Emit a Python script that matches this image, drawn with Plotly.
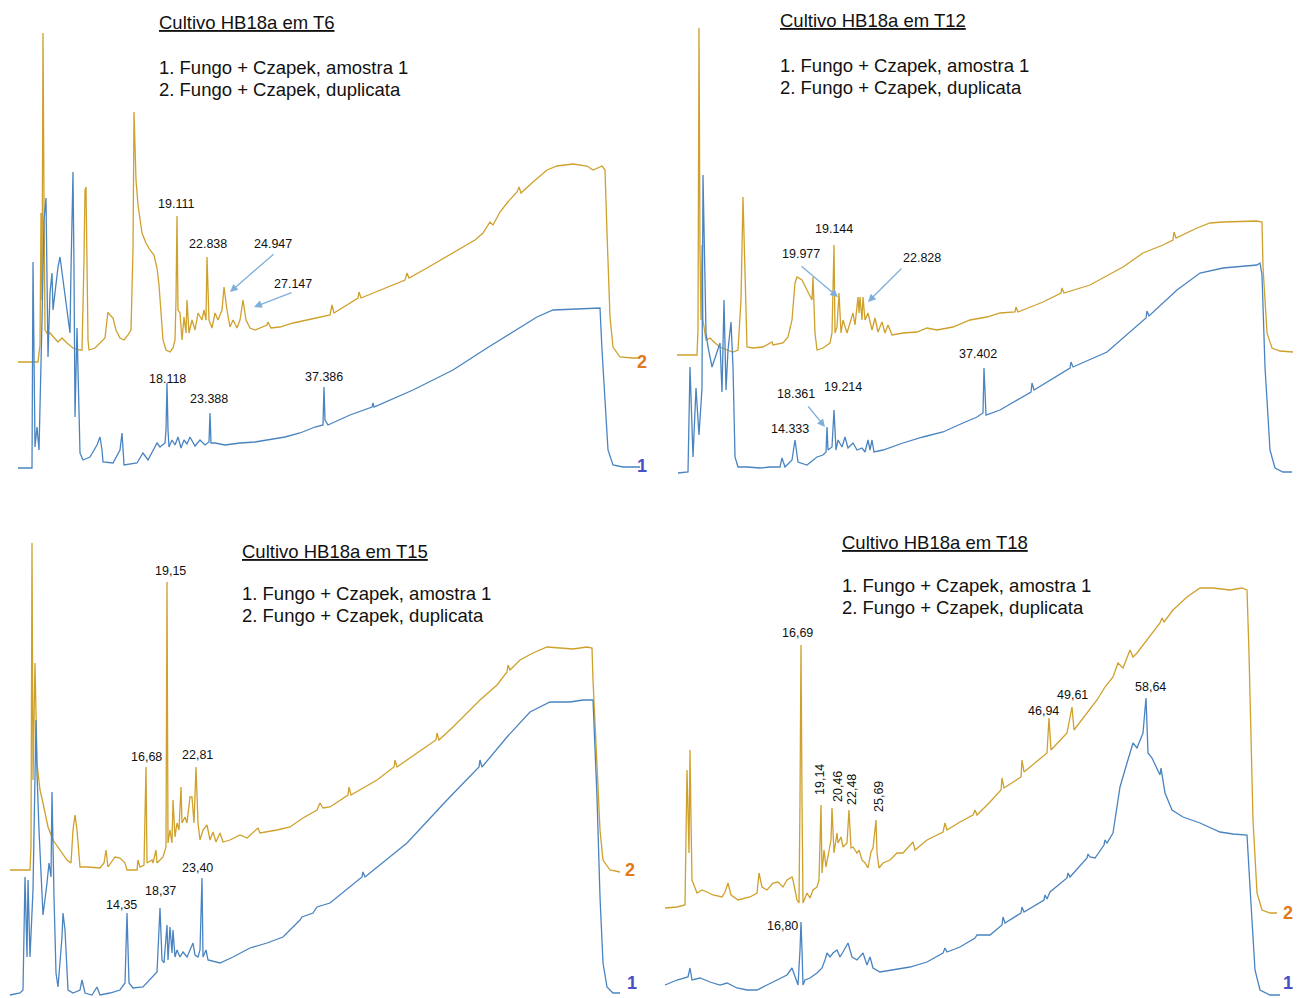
import plotly.graph_objects as go

# ---------------- data: (retention position, signal) ----------------
# Panel T6
T6_DUP = [(18,108),(38,108),(40,125),(41,257),(42,170),(43,437),(44,270),(45,140),(47,137),(50,137),
          (58,128),(62,132),(67,127),(73,122),(80,120),(82,120),(84,210),(85,280),(86,283),(87,220),
          (88,130),(89,120),(95,122),(100,127),(105,132),(107,150),(108,158),(110,155),(113,152),(116,140),
          (120,132),(124,130),(128,135),(131,140),(133,220),(134,358),(135,330),(136,290),(138,265),(142,237),
          (146,227),(150,220),(154,215),(157,202),(159,185),(161,160),(163,130),(166,120),(170,118),(173,122),
          (175,130),(176,170),(177,254),(178,160),(180,157),(182,130),(184,153),(186,137),(187,170),(189,137),
          (192,150),(195,140),(198,157),(202,150),(204,160),(206,150),(207,213),(209,150),(212,142),(215,157),
          (218,150),(222,160),(224,183),(227,160),(230,143),(233,150),(237,142),(240,150),(243,170),(246,150),
          (250,142),(255,140),(260,142),(267,145),(268,148),(271,142),(280,143),(293,147),(307,150),(320,153),
          (330,155),(332,165),(334,157),(358,172),(359,178),(361,172),(380,180),(405,190),(407,197),(409,192),
          (427,202),(453,217),(475,230),(483,237),(487,244),(490,248),(493,245),(500,258),(507,267),(517,278),
          (519,283),(521,277),(533,288),(547,300),(557,304),(573,306),(587,304),(593,300),(602,304),(605,300),
          (607,237),(610,153),(613,123),(620,113),(632,112),(640,112)]
T6_AMO = [(18,2),(32,2),(33,208),(35,23),(37,43),(39,20),(42,150),(44,250),(46,272),(47,150),(48,113),
          (50,177),(52,197),(53,160),(55,180),(58,203),(60,213),(63,190),(67,163),(70,137),(71,200),(73,298),
          (74,200),(75,53),(77,142),(79,40),(80,17),(83,10),(90,13),(97,25),(100,33),(102,20),(103,8),(113,7),
          (120,20),(122,37),(124,5),(137,7),(143,17),(148,10),(157,27),(160,23),(165,27),(166,40),(167,87),
          (168,40),(169,23),(172,30),(175,25),(178,33),(181,22),(184,30),(187,26),(190,33),(195,24),(200,30),
          (205,25),(209,28),(210,57),(211,27),(215,27),(225,25),(240,27),(255,28),(267,30),(285,33),(300,37),
          (315,43),(323,45),(324,83),(325,50),(328,45),(350,55),(372,63),(373,67),(374,63),(413,80),(453,100),
          (487,122),(520,142),(537,153),(553,160),(573,161),(600,162),(602,120),(605,70),(608,20),(613,5),
          (623,3),(640,3)]

# Panel T12
T12_DUP = [(17,115),(37,115),(38,140),(39,442),(40,220),(41,150),(42,225),(43,150),(46,130),(50,132),
           (55,127),(60,123),(67,120),(73,118),(78,120),(81,170),(83,273),(86,170),(87,123),(93,122),(103,123),
           (112,128),(113,125),(123,127),(128,133),(132,150),(135,187),(137,193),(142,190),(147,180),(152,170),
           (153,193),(155,137),(157,120),(163,122),(170,127),(172,137),(174,225),(175,137),(177,143),(179,177),
           (181,137),(183,150),(187,137),(190,147),(193,157),(195,145),(198,173),(199,157),(200,173),(202,150),
           (203,173),(205,150),(208,157),(212,140),(215,152),(218,138),(222,148),(225,137),(228,145),(232,135),
           (243,137),(257,138),(267,142),(277,140),(293,143),(310,150),(327,153),(340,157),(355,158),(356,163),
           (358,158),(383,168),(401,177),(402,182),(404,177),(430,185),(463,203),(483,217),(503,225),(513,230),
           (514,238),(516,232),(537,242),(550,247),(563,248),(597,249),(602,248),(603,203),(607,137),(612,122),
           (620,119),(633,118)]
T12_AMO = [(18,-3),(28,-2),(30,103),(33,13),(36,82),(39,35),(42,82),(43,295),(46,137),(48,123),(52,103),
           (57,117),(60,127),(62,78),(64,170),(66,80),(68,120),(71,148),(73,103),(75,13),(78,3),(87,3),(100,2),
           (110,3),(120,3),(122,12),(125,3),(132,10),(135,30),(138,8),(147,5),(157,13),(163,15),(166,18),
           (167,43),(168,20),(172,23),(174,60),(176,20),(178,30),(182,23),(185,33),(188,22),(193,27),(197,20),
           (202,22),(205,18),(208,30),(210,20),(212,30),(214,18),(223,20),(243,27),(263,33),(283,38),(303,47),
           (317,53),(323,57),(324,102),(326,55),(340,60),(371,78),(372,87),(374,80),(410,102),(411,108),
           (413,103),(447,118),(486,152),(487,159),(489,154),(517,180),(540,197),(563,202),(597,205),(600,207),
           (602,195),(605,103),(610,20),(615,2),(623,-2),(632,-2)]

# Panel T15
T15_DUP = [(10,125),(30,125),(31,148),(32,452),(33,215),(35,332),(37,232),(40,205),(43,192),(48,168),
           (53,155),(60,145),(67,135),(71,132),(73,165),(75,180),(77,165),(80,128),(87,128),(100,127),(104,132),
           (106,145),(108,128),(115,138),(120,137),(125,132),(127,125),(137,125),(138,135),(140,128),(144,130),
           (146,228),(147,132),(152,135),(153,132),(156,145),(157,132),(163,138),(166,148),(167,413),(168,152),
           (170,165),(172,152),(173,195),(175,158),(177,172),(179,165),(181,208),(182,172),(185,178),(187,172),
           (190,198),(192,198),(194,172),(196,228),(198,172),(200,155),(203,165),(207,170),(210,155),(213,163),
           (216,153),(220,162),(223,153),(230,155),(240,160),(247,157),(258,167),(260,162),(277,165),(290,168),
           (303,177),(317,185),(320,192),(323,187),(330,188),(348,200),(349,208),(351,200),(377,215),(394,228),
           (395,235),(397,228),(417,242),(436,255),(437,262),(439,255),(453,268),(480,295),(497,310),(507,323),
           (508,330),(510,325),(520,335),(533,342),(547,348),(560,347),(573,346),(587,348),(592,347),(593,315),
           (597,232),(600,165),(603,135),(610,125),(620,123)]
T15_AMO = [(10,0),(20,2),(23,5),(25,118),(27,38),(28,115),(30,38),(33,105),(36,275),(37,222),(39,165),
           (42,98),(43,80),(47,112),(49,132),(51,118),(52,203),(54,98),(56,22),(58,8),(62,58),(63,82),(65,65),
           (68,5),(73,2),(80,5),(82,15),(85,2),(92,0),(97,8),(100,0),(110,2),(120,5),(125,12),(127,82),(129,12),
           (133,7),(143,8),(148,13),(153,18),(157,23),(160,87),(162,35),(164,32),(167,70),(168,35),(170,68),
           (172,42),(173,65),(175,38),(177,45),(180,38),(183,43),(187,38),(190,45),(193,52),(195,40),(198,38),
           (200,45),(202,117),(203,38),(206,45),(208,35),(220,32),(233,38),(250,47),(267,52),(283,58),(300,75),
           (302,78),(313,82),(317,88),(330,92),(362,118),(363,123),(365,118),(407,152),(447,195),(479,228),
           (480,235),(482,228),(507,258),(530,283),(550,293),(570,293),(583,295),(593,295),(597,198),(600,98),
           (603,32),(607,8),(613,2),(620,2)]

# Panel T18
T18_DUP = [(5,87),(17,88),(25,90),(26,155),(27,225),(29,142),(30,245),(31,175),(32,115),(37,102),(42,105),
           (47,103),(53,100),(62,98),(65,103),(68,112),(71,100),(78,95),(90,98),(97,102),(99,122),(102,108),
           (107,105),(113,112),(118,113),(123,108),(127,115),(132,118),(133,115),(137,95),(139,92),(140,195),
           (141,350),(142,195),(143,92),(147,102),(150,97),(153,105),(157,108),(159,115),(161,190),(162,122),
           (164,145),(166,128),(168,138),(171,155),(172,187),(174,142),(177,162),(178,152),(181,158),(183,148),
           (187,152),(189,185),(191,147),(193,148),(197,142),(199,145),(202,135),(205,132),(208,127),(211,143),
           (213,147),(216,175),(217,142),(219,127),(223,132),(230,135),(237,142),(243,142),(253,153),(255,145),
           (267,155),(283,163),(285,172),(287,165),(300,173),(313,180),(315,185),(317,180),(330,193),(341,205),
           (342,217),(344,207),(361,218),(362,235),(364,223),(387,242),(389,277),(391,245),(407,262),(412,288),
           (414,265),(427,282),(437,295),(445,308),(453,318),(458,332),(463,327),(470,345),(473,338),(477,342),
           (487,355),(500,372),(502,377),(504,373),(513,385),(527,398),(540,407),(553,407),(570,405),(582,407),
           (587,405),(589,342),(593,175),(597,102),(602,85),(610,82),(617,82)]
T18_AMO = [(5,10),(17,15),(28,18),(30,27),(32,15),(40,17),(50,13),(60,10),(67,12),(77,7),(87,5),(97,5),
           (107,10),(117,15),(127,20),(132,27),(135,18),(138,10),(140,45),(141,73),(142,45),(143,10),(145,15),
           (150,17),(157,22),(162,27),(165,35),(167,42),(170,38),(173,42),(177,45),(180,38),(183,43),(188,52),
           (192,38),(197,35),(203,42),(207,30),(210,38),(213,27),(220,23),(233,25),(250,28),(267,33),(283,42),
           (285,47),(287,43),(300,48),(315,57),(317,60),(330,60),(342,70),(343,78),(345,72),(361,82),(362,88),
           (364,83),(384,95),(385,100),(387,96),(390,103),(407,117),(408,122),(410,118),(427,137),(428,141),
           (430,138),(435,137),(444,150),(445,155),(447,152),(453,162),(460,208),(467,232),(473,252),(477,247),
           (480,255),(483,262),(486,297),(488,242),(492,237),(497,227),(500,220),(501,227),(503,215),(505,202),
           (512,185),(523,178),(540,172),(560,163),(573,161),(587,160),(590,108),(595,25),(600,5),(610,0),(620,0)]

PANEL_TITLES = ["Cultivo HB18a em T6", "Cultivo HB18a em T12", "Cultivo HB18a em T15", "Cultivo HB18a em T18"]
LEGEND_LINES = ["1. Fungo + Czapek, amostra 1", "2. Fungo + Czapek, duplicata"]

# peak labels: (panel, text, x, y, rotated)
PEAK_LABELS = [
    (1, "19.111", 176, 266, False), (1, "22.838", 208, 226, False), (1, "24.947", 273, 226, False),
    (1, "27.147", 293, 186, False), (1, "18.118", 167, 91, False), (1, "23.388", 209, 71, False),
    (1, "37.386", 324, 93, False),
    (2, "19.144", 174, 241, False), (2, "19.977", 141, 216, False), (2, "22.828", 262, 212, False),
    (2, "37.402", 318, 116, False), (2, "18.361", 136, 76, False), (2, "19.214", 183, 83, False),
    (2, "14.333", 130, 41, False),
    (3, "19,15", 170, 424, False), (3, "16,68", 146, 238, False), (3, "22,81", 197, 240, False),
    (3, "23,40", 197, 127, False), (3, "14,35", 121, 90, False), (3, "18,37", 160, 104, False),
    (4, "16,69", 137, 362, False), (4, "19,14", 160, 215, True), (4, "20,46", 178, 208, True),
    (4, "22,48", 192, 205, True), (4, "25,69", 219, 198, True), (4, "46,94", 383, 284, False),
    (4, "49,61", 412, 300, False), (4, "58,64", 490, 308, False), (4, "16,80", 122, 69, False),
]
# arrows: (panel, tail x, tail y, head x, head y)
ARROWS = [(1, 275, 217, 230, 178), (1, 293, 178, 254, 163),
          (2, 140, 205, 178, 173), (2, 243, 203, 208, 168), (2, 147, 65, 165, 43)]
# trace number labels: (panel, text, x, y)
TRACE_NUMS = [(1, "2", 642, 108), (1, "1", 642, 4), (3, "2", 630, 125), (3, "1", 632, 12),
              (4, "2", 628, 82), (4, "1", 628, 12)]

# ---------------- styling / layout ----------------
W, H = 1298, 998
GOLD = "#CFA12C"
BLUE = "#4A84C0"
ARROW = "#7FAEDB"
NUM_COLOR = {"2": "#E0781C", "1": "#4A4FC8"}

fig = go.Figure()
series = [(1, T6_DUP, T6_AMO), (2, T12_DUP, T12_AMO), (3, T15_DUP, T15_AMO), (4, T18_DUP, T18_AMO)]
for p, dup, amo in series:
    sx = "x" if p == 1 else f"x{p}"
    sy = "y" if p == 1 else f"y{p}"
    for data, col, name in ((dup, GOLD, "2"), (amo, BLUE, "1")):
        xs = [d[0] for d in data]
        ys = [d[1] for d in data]
        fig.add_trace(go.Scatter(x=xs, y=ys, mode="lines", xaxis=sx, yaxis=sy, name=name,
                                 line=dict(color=col, width=1.3), hoverinfo="skip", showlegend=False))

ax_common = dict(visible=False, showgrid=False, zeroline=False, fixedrange=True)
left_dom = [0, 660 / W]
right_dom = [660 / W, 1]
top_dom = [520 / H, 1]
bot_dom = [0, 473 / H]
fig.update_layout(
    width=W, height=H, margin=dict(l=0, r=0, t=0, b=0),
    paper_bgcolor="white", plot_bgcolor="white", showlegend=False,
    font=dict(family="Liberation Sans, Arial, sans-serif", color="#222"),
    xaxis=dict(domain=left_dom, range=[0, 660], anchor="y", **ax_common),
    yaxis=dict(domain=top_dom, range=[-8, 470], anchor="x", **ax_common),
    xaxis2=dict(domain=right_dom, range=[0, 638], anchor="y2", **ax_common),
    yaxis2=dict(domain=top_dom, range=[-8, 470], anchor="x2", **ax_common),
    xaxis3=dict(domain=left_dom, range=[0, 660], anchor="y3", **ax_common),
    yaxis3=dict(domain=bot_dom, range=[-3, 470], anchor="x3", **ax_common),
    xaxis4=dict(domain=right_dom, range=[0, 638], anchor="y4", **ax_common),
    yaxis4=dict(domain=bot_dom, range=[-3, 470], anchor="x4", **ax_common),
)

def refs(p):
    return ("x" if p == 1 else f"x{p}"), ("y" if p == 1 else f"y{p}")

ann = []
# titles and legend text (positions in page pixels)
TEXT_POS = [(157, 23, 67, 89), (778, 21, 65, 87), (240, 551, 593, 615), (840, 542, 585, 607)]
for title, (tx, ty, l1, l2) in zip(PANEL_TITLES, TEXT_POS):
    ann.append(dict(text=f"<u>{title}</u>", x=tx / W, y=1 - ty / H, xref="paper", yref="paper",
                    xanchor="left", yanchor="middle", showarrow=False,
                    font=dict(size=18.5, color="#111")))
    for line, ly in zip(LEGEND_LINES, (l1, l2)):
        ann.append(dict(text=line, x=tx / W, y=1 - ly / H, xref="paper", yref="paper",
                        xanchor="left", yanchor="middle", showarrow=False,
                        font=dict(size=18.5, color="#111")))

for p, txt, x, y, rot in PEAK_LABELS:
    xr, yr = refs(p)
    ann.append(dict(text=txt, x=x, y=y, xref=xr, yref=yr, showarrow=False,
                    xanchor="center", yanchor="middle", textangle=-90 if rot else 0,
                    font=dict(size=12.5, color="#111")))

for p, x0, y0, x1, y1 in ARROWS:
    xr, yr = refs(p)
    ann.append(dict(text="", x=x1, y=y1, ax=x0, ay=y0, xref=xr, yref=yr, axref=xr, ayref=yr,
                    showarrow=True, arrowhead=2, arrowsize=1.2, arrowwidth=1.3, arrowcolor=ARROW))

for p, txt, x, y in TRACE_NUMS:
    xr, yr = refs(p)
    ann.append(dict(text=f"<b>{txt}</b>", x=x, y=y, xref=xr, yref=yr, showarrow=False,
                    xanchor="center", yanchor="middle", font=dict(size=18, color=NUM_COLOR[txt])))

fig.update_layout(annotations=ann)
fig.write_html("out.html")
